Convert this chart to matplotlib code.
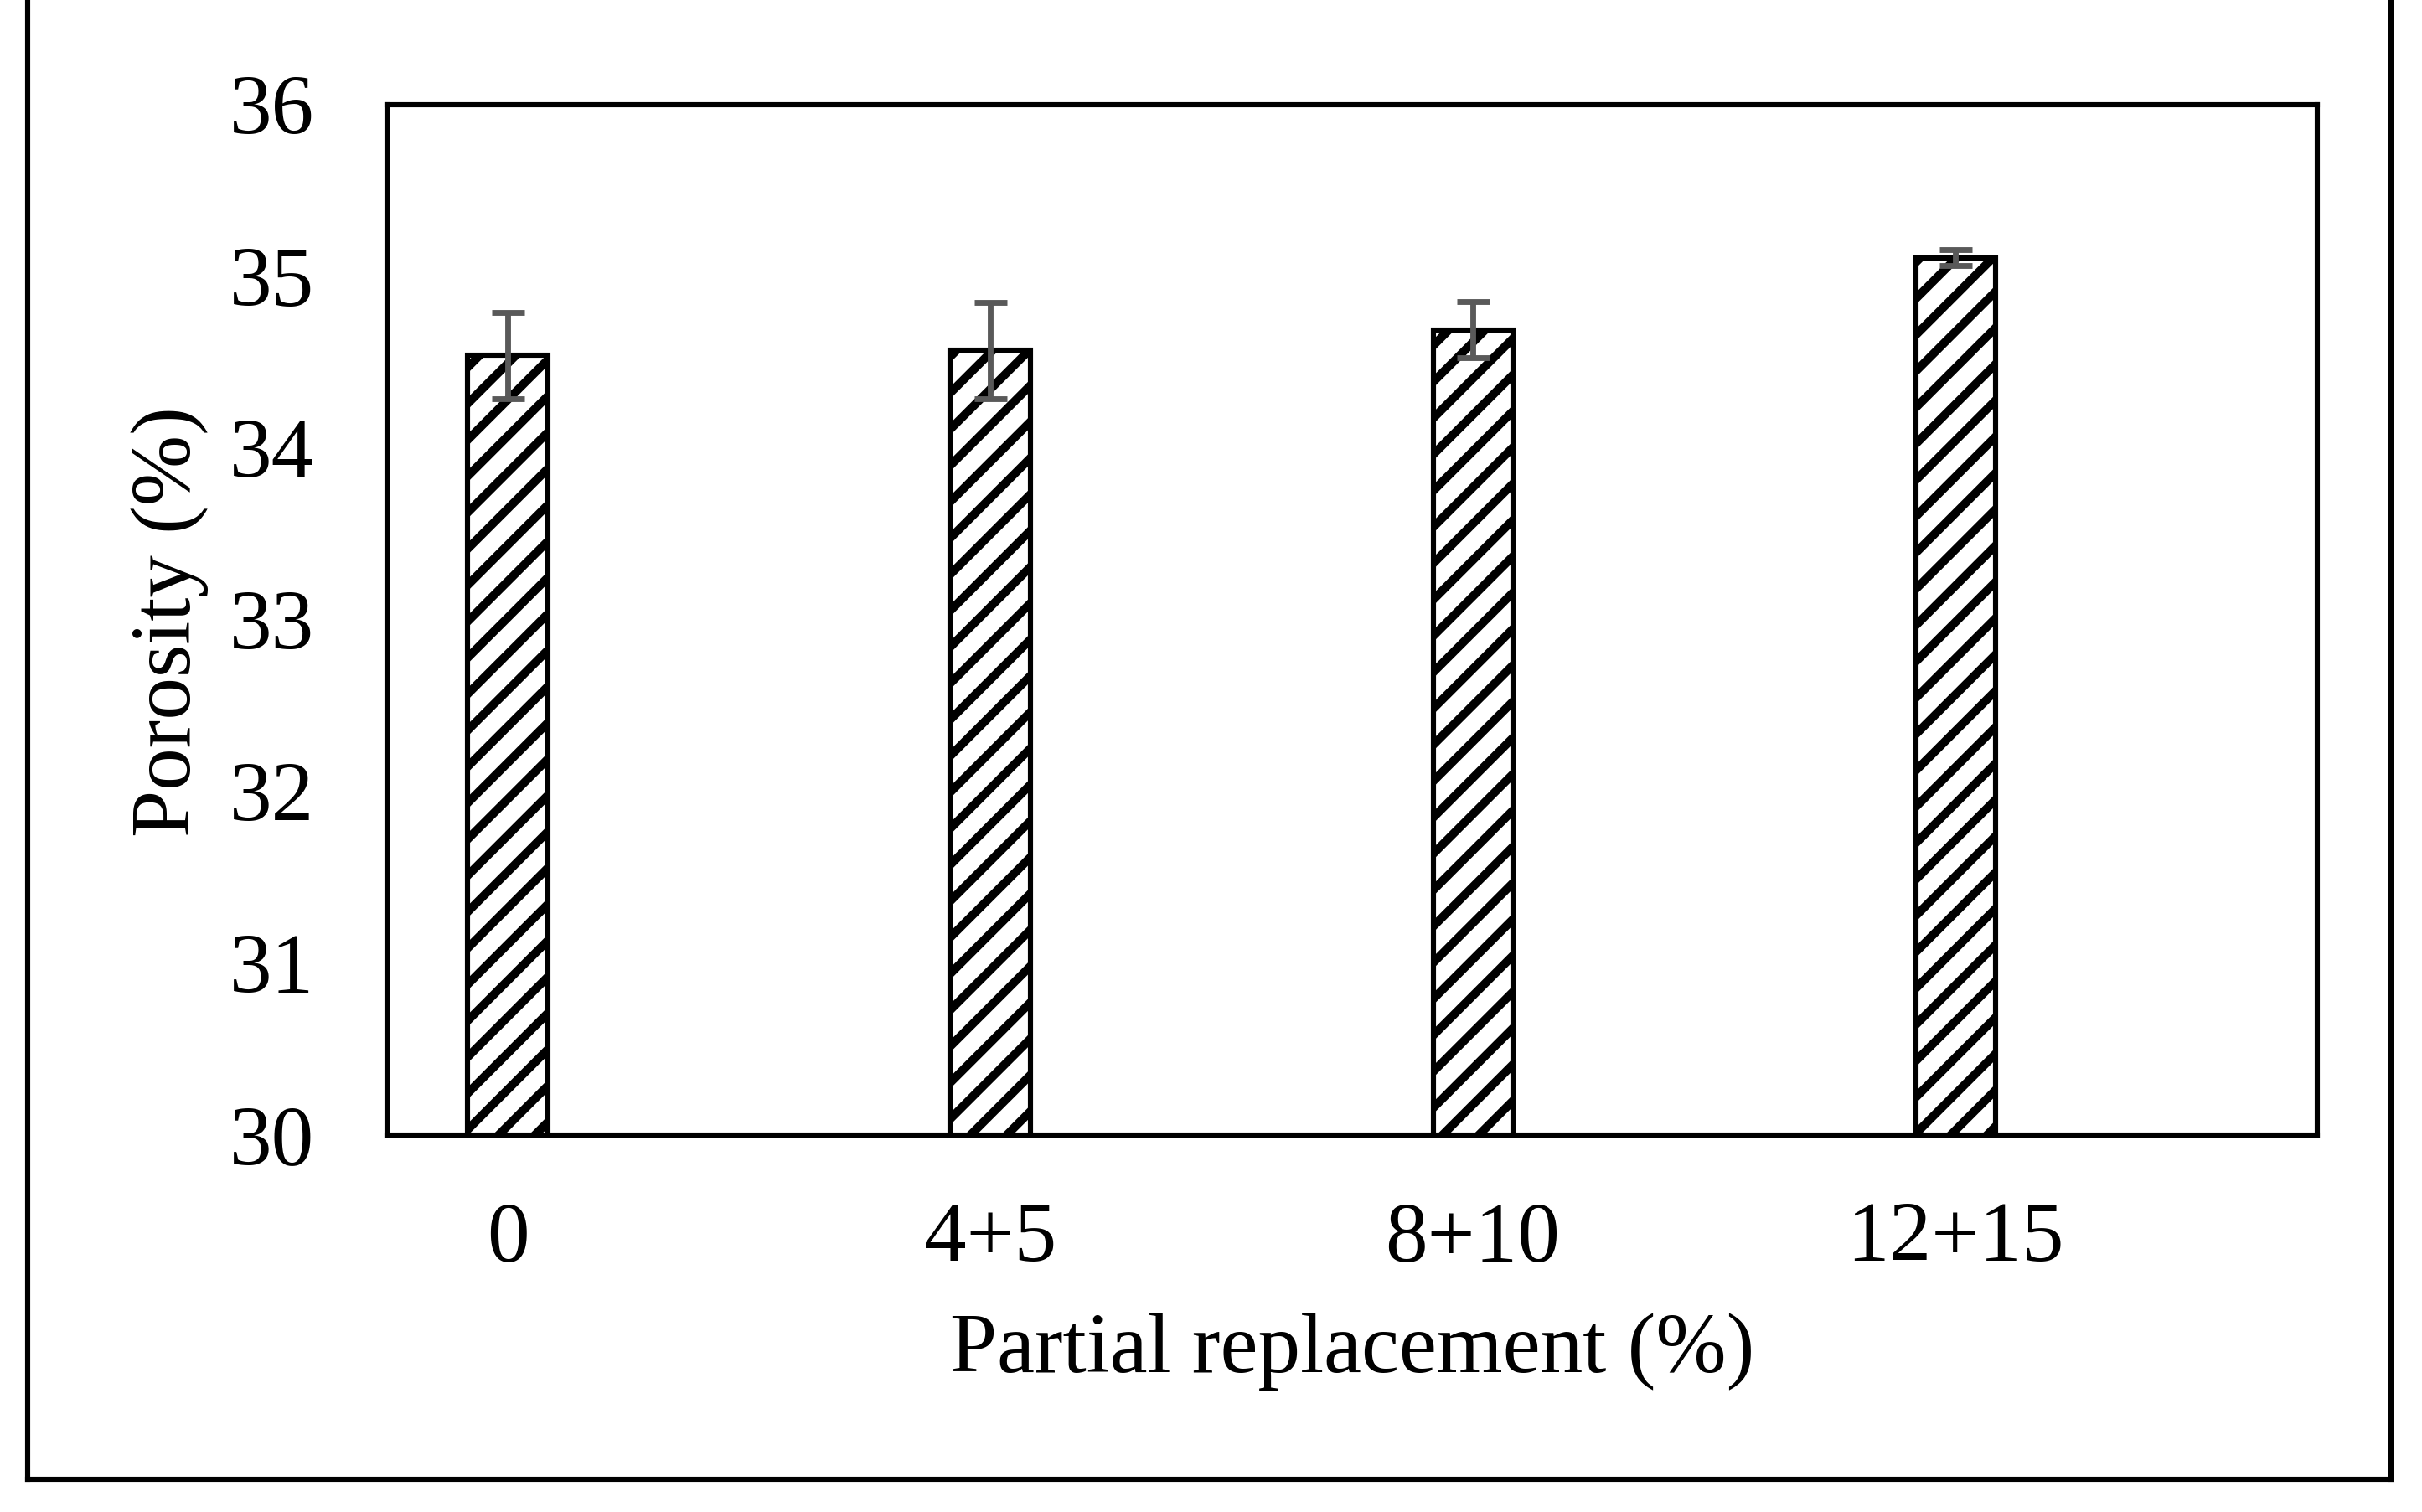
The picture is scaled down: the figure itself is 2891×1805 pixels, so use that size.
import numpy as np
import matplotlib
matplotlib.use("Agg")
import matplotlib.pyplot as plt
from matplotlib.lines import Line2D

categories = ["0", "4+5", "8+10", "12+15"]
porosity = [34.54, 34.57, 34.69, 35.11]  # porosity (%)
errors = [0.25, 0.28, 0.165, 0.045]        # std dev
yticks = [30, 31, 32, 33, 34, 35, 36]

plt.rcParams['font.family'] = ['Liberation Serif', 'DejaVu Serif']
plt.rcParams['hatch.linewidth'] = 2.8
plt.rcParams['hatch.color'] = 'black'

dpi = 260
fig = plt.figure(figsize=(2891 / dpi, 1805 / dpi), dpi=dpi)
ax = fig.add_axes([0.1598, 0.2493, 0.7970, 0.6814])

x = np.arange(len(categories))
ax.bar(x, porosity, width=0.165, color='white', edgecolor='black', linewidth=1.7,
       hatch='//', yerr=errors,
       error_kw=dict(ecolor='#595959', elinewidth=1.9, capsize=5.4, capthick=1.9))

ax.set_xlim(-0.25, 3.75)
ax.set_ylim(30, 36)
ax.set_yticks(yticks)
ax.set_xticks(x)
ax.set_xticklabels(categories)
ax.tick_params(axis='both', length=0, labelsize=28)
ax.tick_params(axis='x', pad=22)
ax.tick_params(axis='y', pad=24)
for s in ax.spines.values():
    s.set_linewidth(1.7)
    s.set_color('black')

# axis titles
fig.text(1614 / 2891, 1 - 1614 / 1805, "Partial replacement (%)", fontsize=28,
         ha='center', va='center')
fig.text(203 / 2891, 1 - 742 / 1805, "Porosity (%)", fontsize=28,
         ha='center', va='center', rotation=90)

# outer frame (top edge is cut off in the original)
xl, xr, yb = 33 / 2891, 2854 / 2891, 1 - 1766 / 1805
fig.add_artist(Line2D([xl, xl], [yb, 1.0], transform=fig.transFigure, color='black', lw=1.7))
fig.add_artist(Line2D([xr, xr], [yb, 1.0], transform=fig.transFigure, color='black', lw=1.7))
fig.add_artist(Line2D([xl, xr], [yb, yb], transform=fig.transFigure, color='black', lw=1.7,
                      solid_capstyle='projecting'))

fig.savefig("out.png", dpi=dpi)
